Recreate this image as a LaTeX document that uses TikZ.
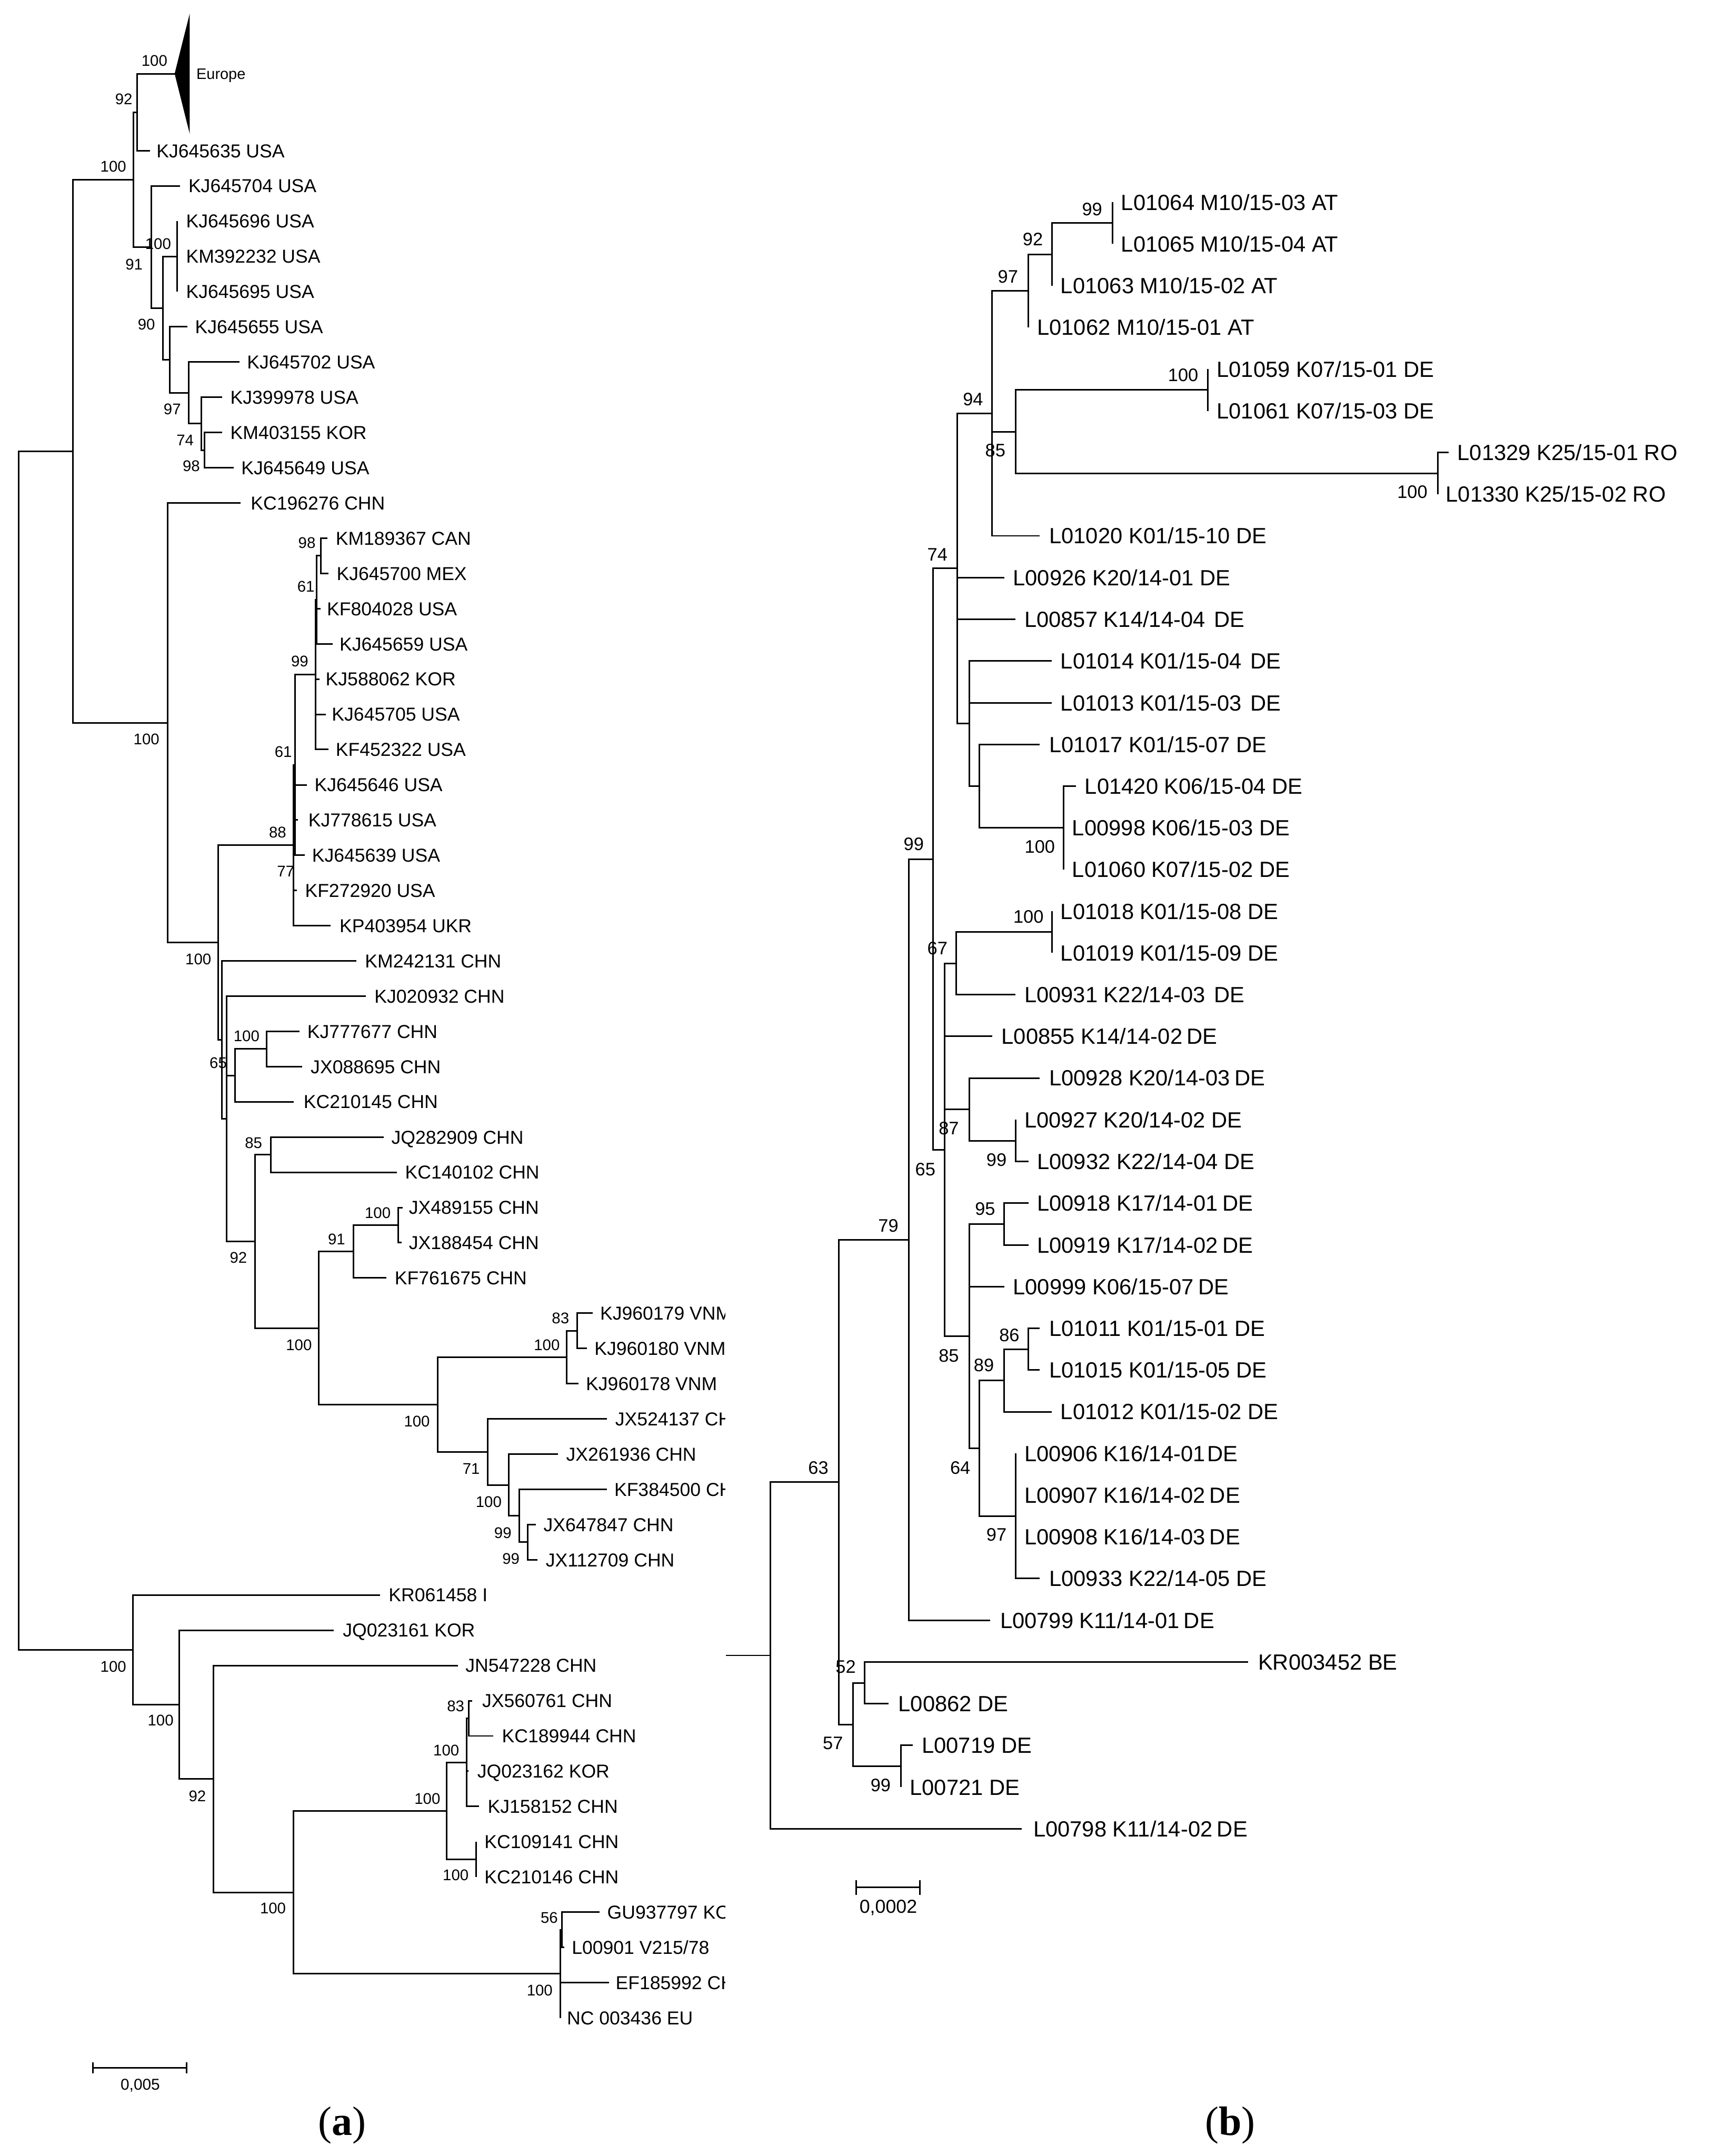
\documentclass[tikz,border=0pt]{standalone}
\usepackage{fontspec}
\setmainfont{Liberation Sans}
\newfontfamily\panelserif{Liberation Serif}
\newcommand\tg{\hspace{0.2em}}
\newcommand\vtg{\hspace{0.1em}}
\newcommand\wg{\hspace{0.4em}}
\tikzset{
  br/.style={line width=0.65pt},
  lab/.style={font=\fontsize{7.75pt}{9pt}\selectfont, inner sep=0pt, text height=5.55pt, text depth=0pt, anchor=west},
  rlab/.style={font=\fontsize{9.1pt}{11pt}\selectfont, inner sep=0pt, text height=6.52pt, text depth=0pt, anchor=west},
  bsl/.style={font=\fontsize{6.4pt}{7.5pt}\selectfont, inner sep=0pt, text height=4.58pt, text depth=0pt, anchor=center},
  bsr/.style={font=\fontsize{7.5pt}{9pt}\selectfont, inner sep=0pt, text height=5.37pt, text depth=0pt, anchor=center},
  panel/.style={font=\panelserif\fontsize{17pt}{20pt}\selectfont, inner sep=0pt, anchor=base},
}
\newcommand\LeafL[6]{\coordinate (#1) at (#3,#4); \draw[br] (#2) |- (#1); \node[lab] (#1l) at (#5,#4) {#6};}
\newcommand\LeafR[6]{\coordinate (#1) at (#3,#4); \draw[br] (#2) |- (#1); \node[rlab] (#1l) at (#5,#4) {#6};}
\newcommand\Edge[2]{\draw[br] (#1) |- (#2);}
\newcommand\BsL[4]{\node[bsl] (#1) at (#2,#3) {#4};}
\newcommand\BsR[4]{\node[bsr] (#1) at (#2,#3) {#4};}
\begin{document}
\begin{tikzpicture}[x=0.02cm,y=-0.02cm]
\useasboundingbox (0,0) rectangle (1247,1568);
\fill[white] (0,0) rectangle (1247,1568);
% ================= LEFT TREE =================
\begin{scope}
\clip (0,0) rectangle (527.5,1568);
\coordinate (R) at (13.7,764.0);
\coordinate (A) at (53.2,328.15);
\coordinate (B) at (96.8,1199.84);
\coordinate (A1) at (97.2,130.62);
\coordinate (N92) at (99.6,81.6);
\coordinate (N91) at (110,179.64);
\coordinate (N90) at (118.5,224.08);
\coordinate (N100b) at (129,186.45);
\coordinate (Nx) at (123.6,261.7);
\coordinate (N97) at (137.4,285.73);
\coordinate (N74) at (146.6,308.15);
\coordinate (N98) at (148.7,327.4);
\coordinate (A2) at (121.9,525.67);
\coordinate (N100c) at (158.7,685.53);
\coordinate (N88) at (213.6,614.77);
\coordinate (N61) at (214.6,556.34);
\coordinate (N99) at (229.4,490.68);
\coordinate (N61a) at (230.2,436.25);
\coordinate (N98b) at (233.5,404.2);
\coordinate (N757) at (161.4,756.28);
\coordinate (N815) at (164.8,813.67);
\coordinate (N65) at (171,782.1);
\coordinate (N100d) at (194,762.9);
\coordinate (N92b) at (185.4,902.83);
\coordinate (N85) at (196.8,839.8);
\coordinate (N100e) at (231.8,965.85);
\coordinate (N91b) at (256.9,910.2);
\coordinate (N100g) at (289.5,891.0);
\coordinate (N100f) at (318.3,1021.5);
\coordinate (N100h) at (412.1,987.1);
\coordinate (N83) at (419.6,967.9);
\coordinate (N71) at (354.7,1055.93);
\coordinate (N100i) at (369.8,1079.95);
\coordinate (N99c) at (377.7,1102.4);
\coordinate (N99d) at (383.9,1121.6);
\coordinate (N100j) at (130.5,1239.68);
\coordinate (N92c) at (155.2,1293.75);
\coordinate (N100k) at (213.6,1376.2);
\coordinate (N100l) at (324.9,1316.95);
\coordinate (N100n) at (339.3,1281.7);
\coordinate (N83b) at (341,1249.7);
\coordinate (N100o) at (346.1,1352.2);
\coordinate (N100m) at (407.6,1435.45);
\coordinate (N56) at (408.6,1403.4);
\Edge{R}{A} \Edge{R}{B} \Edge{A}{A1} \Edge{A}{A2}
\Edge{A1}{N92} \Edge{A1}{N91} \Edge{N91}{N90} \Edge{N90}{N100b} \Edge{N90}{Nx}
\Edge{Nx}{N97} \Edge{N97}{N74} \Edge{N74}{N98}
\Edge{A2}{N100c} \Edge{N100c}{N88} \Edge{N100c}{N757} \Edge{N88}{N61} \Edge{N61}{N99}
\Edge{N99}{N61a} \Edge{N61a}{N98b} \Edge{N757}{N815} \Edge{N815}{N65} \Edge{N65}{N100d}
\Edge{N815}{N92b} \Edge{N92b}{N85} \Edge{N92b}{N100e} \Edge{N100e}{N91b} \Edge{N91b}{N100g}
\Edge{N100e}{N100f} \Edge{N100f}{N100h} \Edge{N100h}{N83} \Edge{N100f}{N71} \Edge{N71}{N100i}
\Edge{N100i}{N99c} \Edge{N99c}{N99d}
\Edge{B}{N100j} \Edge{N100j}{N92c} \Edge{N92c}{N100k} \Edge{N100k}{N100l} \Edge{N100l}{N100n}
\Edge{N100n}{N83b} \Edge{N100l}{N100o} \Edge{N100k}{N100m} \Edge{N100m}{N56}
% Europe collapsed clade
\coordinate (EuTip) at (127,53.6);
\coordinate (EuA) at (138,9.7);
\coordinate (EuB) at (138,97.5);
\Edge{N92}{EuTip}
\fill (EuTip) -- (EuA) -- (EuB) -- cycle;
\node[font=\fontsize{6.3pt}{7.5pt}\selectfont, inner sep=0pt, text height=4.51pt, text depth=0pt, anchor=west] (Europe) at (142.5,53.6) {Europe};
% leaves
\LeafL{KJ645635}{N92}{109.2}{109.6}{113.5}{KJ645635 USA}
\LeafL{KJ645704}{N91}{131}{135.2}{136.7}{KJ645704 USA}
\LeafL{KJ645696}{N100b}{129}{160.8}{135}{KJ645696 USA}
\LeafL{KM392232}{N100b}{129}{186.45}{135}{KM392232 USA}
\LeafL{KJ645695}{N100b}{129}{212.1}{135}{KJ645695 USA}
\LeafL{KJ645655}{Nx}{136.3}{237.7}{141.5}{KJ645655 USA}
\LeafL{KJ645702}{N97}{174.1}{263.3}{179.3}{KJ645702 USA}
\LeafL{KJ399978}{N74}{161.4}{288.9}{167.2}{KJ399978 USA}
\LeafL{KM403155}{N98}{161.4}{314.6}{167.2}{KM403155 KOR}
\LeafL{KJ645649}{N98}{170}{340.2}{175.1}{KJ645649 USA}
\LeafL{KC196276}{A2}{175.1}{365.8}{182}{KC196276 CHN}
\LeafL{KM189367}{N98b}{238}{391.4}{243.8}{KM189367 CAN}
\LeafL{KJ645700}{N98b}{239}{417.0}{244.5}{KJ645700 MEX}
\LeafL{KF804028}{N61a}{233}{442.7}{237.4}{KF804028 USA}
\LeafL{KJ645659}{N61a}{242}{468.3}{246.6}{KJ645659 USA}
\LeafL{KJ588062}{N99}{232.5}{493.9}{236.5}{KJ588062 KOR}
\LeafL{KJ645705}{N99}{237}{519.5}{241}{KJ645705 USA}
\LeafL{KF452322}{N99}{238.7}{545.1}{243.8}{KF452322 USA}
\LeafL{KJ645646}{N61}{223.2}{570.8}{228.4}{KJ645646 USA}
\LeafL{KJ778615}{N61}{216.8}{596.4}{223.9}{KJ778615 USA}
\LeafL{KJ645639}{N61}{221.5}{622.0}{226.6}{KJ645639 USA}
\LeafL{KF272920}{N88}{216}{647.6}{221.5}{KF272920 USA}
\LeafL{KP403954}{N88}{240.4}{673.2}{246.6}{KP403954 UKR}
\LeafL{KM242131}{N757}{259.3}{698.9}{265.1}{KM242131 CHN}
\LeafL{KJ020932}{N815}{266.1}{724.5}{272}{KJ020932 CHN}
\LeafL{KJ777677}{N100d}{218}{750.1}{223.2}{KJ777677 CHN}
\LeafL{JX088695}{N100d}{219.8}{775.7}{225.6}{JX088695 CHN}
\LeafL{KC210145}{N65}{213.6}{801.3}{220.5}{KC210145 CHN}
\LeafL{JQ282909}{N85}{279.2}{827.0}{284.3}{JQ282909 CHN}
\LeafL{KC140102}{N85}{288.5}{852.6}{294.3}{KC140102 CHN}
\LeafL{JX489155}{N100g}{292.9}{878.2}{297}{JX489155 CHN}
\LeafL{JX188454}{N100g}{292}{903.8}{297}{JX188454 CHN}
\LeafL{KF761675}{N91b}{280.9}{929.4}{286.7}{KF761675 CHN}
\LeafL{KJ960179}{N83}{431}{955.1}{436.1}{KJ960179 VNM}
\LeafL{KJ960180}{N83}{426.8}{980.7}{432}{KJ960180 VNM}
\LeafL{KJ960178}{N100h}{420.7}{1006.3}{425.8}{KJ960178 VNM}
\LeafL{JX524137}{N71}{441.3}{1031.9}{447.1}{JX524137 CHN}
\LeafL{JX261936}{N100i}{405.9}{1057.5}{411.4}{JX261936 CHN}
\LeafL{KF384500}{N99c}{441.3}{1083.2}{446.4}{KF384500 CHN}
\LeafL{JX647847}{N99d}{389.8}{1108.8}{394.9}{JX647847 CHN}
\LeafL{JX112709}{N99d}{390.8}{1134.4}{396.6}{JX112709 CHN}
\LeafL{KR061458}{B}{276.4}{1160.0}{282.3}{KR061458 I}
\LeafL{JQ023161}{N100j}{242.8}{1185.6}{249}{JQ023161 KOR}
\LeafL{JN547228}{N92c}{333.1}{1211.3}{338.2}{JN547228 CHN}
\LeafL{JX560761}{N83b}{343.4}{1236.9}{350.3}{JX560761 CHN}
\LeafL{KC189944}{N83b}{358.8}{1262.5}{364.7}{KC189944 CHN}
\LeafL{JQ023162}{N100n}{340.6}{1288.1}{346.8}{JQ023162 KOR}
\LeafL{KJ158152}{N100n}{348.5}{1313.7}{354.4}{KJ158152 CHN}
\LeafL{KC109141}{N100o}{346.1}{1339.4}{352}{KC109141 CHN}
\LeafL{KC210146}{N100o}{346.1}{1365.0}{352}{KC210146 CHN}
\LeafL{GU937797}{N56}{436}{1390.6}{441.3}{GU937797 KOR}
\LeafL{L00901}{N56}{410.3}{1416.2}{415.5}{L00901 V215/78}
\LeafL{EF185992}{N100m}{443}{1441.8}{447.4}{EF185992 CHN}
\LeafL{NC003436}{N100m}{407.6}{1467.5}{412}{NC 003436 EU}
% bootstrap values
\BsL{bl1}{112.3}{43.9}{100}
\BsL{bl2}{90}{71.9}{92}
\BsL{bl3}{82.4}{121.1}{100}
\BsL{bl4}{115}{177.4}{100}
\BsL{bl5}{97.5}{192}{91}
\BsL{bl6}{106.5}{235.9}{90}
\BsL{bl7}{125.3}{297.3}{97}
\BsL{bl8}{134.6}{320}{74}
\BsL{bl9}{139.1}{338.7}{98}
\BsL{bl10}{106.5}{537.4}{100}
\BsL{bl11}{223.2}{394.8}{98}
\BsL{bl12}{222.5}{426.5}{61}
\BsL{bl13}{218}{480.8}{99}
\BsL{bl14}{206}{546.6}{61}
\BsL{bl15}{201.9}{605.1}{88}
\BsL{bl16}{207.8}{633.7}{77}
\BsL{bl17}{144.2}{697.5}{100}
\BsL{bl18}{179.3}{753.4}{100}
\BsL{bl19}{158.7}{772.7}{65}
\BsL{bl20}{184.4}{831.1}{85}
\BsL{bl21}{173.4}{914.7}{92}
\BsL{bl22}{274.7}{882}{100}
\BsL{bl23}{244.8}{901.2}{91}
\BsL{bl24}{217.4}{977.9}{100}
\BsL{bl25}{407.6}{958.7}{83}
\BsL{bl26}{397.7}{977.9}{100}
\BsL{bl27}{303.2}{1033.7}{100}
\BsL{bl28}{342.7}{1068.1}{71}
\BsL{bl29}{355.4}{1092.3}{100}
\BsL{bl30}{365.7}{1114.6}{99}
\BsL{bl31}{371.6}{1133.3}{99}
\BsL{bl32}{82.4}{1211.8}{100}
\BsL{bl33}{116.8}{1251.1}{100}
\BsL{bl34}{143.5}{1306}{92}
\BsL{bl35}{198.5}{1387.6}{100}
\BsL{bl36}{310.8}{1307.9}{100}
\BsL{bl37}{324.5}{1272.8}{100}
\BsL{bl38}{331.4}{1240.5}{83}
\BsL{bl39}{331.4}{1363.7}{100}
\BsL{bl40}{392.5}{1447.3}{100}
\BsL{bl41}{399.4}{1394.5}{56}
\end{scope}
% left scale bar
\coordinate (sa1) at (67.6,1503.8);
\coordinate (sa2) at (135.6,1503.8);
\draw[br] (sa1) -- (sa2);
\draw[br] ([yshift=4*0.02cm]sa1) -- ([yshift=-4*0.02cm]sa1);
\draw[br] ([yshift=4*0.02cm]sa2) -- ([yshift=-4*0.02cm]sa2);
\node[font=\fontsize{6.5pt}{8pt}\selectfont, inner sep=0pt, text height=4.65pt, text depth=0pt] (sal) at (102,1515.8) {0,005};
\node[panel] (pa) at (249,1553) {(\textbf{a})};
% ================= RIGHT TREE =================
\coordinate (rStub) at (527.9,1203.93);
\coordinate (RR) at (560.4,1203.93);
\coordinate (rN63) at (609.9,1077.86);
\coordinate (rN57) at (620.5,1254.18);
\coordinate (rN52) at (628.9,1223.85);
\coordinate (rN99r) at (655.3,1284.5);
\coordinate (rN79) at (660.8,901.55);
\coordinate (rN99a) at (678.4,624.8);
\coordinate (rN74) at (696,413.42);
\coordinate (rN94) at (721.5,300.63);
\coordinate (rN97) at (747.9,211.56);
\coordinate (rN92) at (765,185.03);
\coordinate (rN99) at (809,162.25);
\coordinate (rN85) at (738.6,313.93);
\coordinate (rN100a) at (878.4,283.6);
\coordinate (rN100b) at (1045.6,344.25);
\coordinate (rNk) at (704.8,526.2);
\coordinate (rNm) at (712.2,571.73);
\coordinate (rN100c) at (773.3,602.05);
\coordinate (rN65) at (686.8,836.17);
\coordinate (rN67) at (695.5,700.63);
\coordinate (rN100d) at (765,677.85);
\coordinate (rN87) at (704.8,806.78);
\coordinate (rN99b) at (738.6,829.55);
\coordinate (rN85b) at (704.8,971.7);
\coordinate (rN95) at (730.3,890.2);
\coordinate (rN64) at (712.2,1053.2);
\coordinate (rN89) at (730.3,1003.93);
\coordinate (rN86) at (747.9,981.15);
\coordinate (rN97b) at (738.6,1102.5);
\draw[br] (rStub) -- (RR);
\Edge{RR}{rN63} \Edge{rN63}{rN79} \Edge{rN63}{rN57} \Edge{rN57}{rN52} \Edge{rN57}{rN99r}
\Edge{rN79}{rN99a} \Edge{rN99a}{rN74} \Edge{rN99a}{rN65}
\Edge{rN74}{rN94} \Edge{rN94}{rN97} \Edge{rN97}{rN92} \Edge{rN92}{rN99}
\Edge{rN94}{rN85} \Edge{rN85}{rN100a} \Edge{rN85}{rN100b}
\Edge{rN74}{rNk} \Edge{rNk}{rNm} \Edge{rNm}{rN100c}
\Edge{rN65}{rN67} \Edge{rN67}{rN100d} \Edge{rN65}{rN87} \Edge{rN87}{rN99b}
\Edge{rN65}{rN85b} \Edge{rN85b}{rN95} \Edge{rN85b}{rN64} \Edge{rN64}{rN89} \Edge{rN89}{rN86} \Edge{rN64}{rN97b}
\LeafR{L01064}{rN99}{809}{147.1}{815}{L01064 M10/15-03 AT}
\LeafR{L01065}{rN99}{809}{177.4}{815}{L01065 M10/15-04 AT}
\LeafR{L01063}{rN92}{765}{207.8}{771}{L01063 M10/15-02 AT}
\LeafR{L01062}{rN97}{747.9}{238.1}{753.9}{L01062 M10/15-01 AT}
\LeafR{L01059}{rN100a}{878.4}{268.4}{884.5}{L01059 K07/15-01 DE}
\LeafR{L01061}{rN100a}{878.4}{298.8}{884.5}{L01061 K07/15-03 DE}
\LeafR{L01329}{rN100b}{1053.4}{329.1}{1059.5}{L01329 K25/15-01 RO}
\LeafR{L01330}{rN100b}{1045.6}{359.4}{1051.1}{L01330 K25/15-02 RO}
\LeafR{L01020}{rN94}{756.2}{389.7}{762.7}{L01020 K01/15-10 DE}
\LeafR{L00926}{rN74}{730.3}{420.1}{736.3}{L00926 K20/14-01 DE}
\LeafR{L00857}{rN74}{738.6}{450.4}{744.6}{L00857 K14/14-04\wg DE}
\LeafR{L01014}{rNk}{765}{480.7}{771}{L01014 K01/15-04\wg DE}
\LeafR{L01013}{rNk}{765}{511.1}{771}{L01013 K01/15-03\wg DE}
\LeafR{L01017}{rNm}{756.2}{541.4}{762.7}{L01017 K01/15-07 DE}
\LeafR{L01420}{rN100c}{782.6}{571.7}{788.6}{L01420 K06/15-04 DE}
\LeafR{L00998}{rN100c}{773.3}{602.1}{779.4}{L00998 K06/15-03 DE}
\LeafR{L01060}{rN100c}{773.3}{632.4}{779.4}{L01060 K07/15-02 DE}
\LeafR{L01018}{rN100d}{765}{662.7}{771}{L01018 K01/15-08 DE}
\LeafR{L01019}{rN100d}{765}{693.0}{771}{L01019 K01/15-09 DE}
\LeafR{L00931}{rN67}{738.6}{723.4}{744.6}{L00931 K22/14-03\wg DE}
\LeafR{L00855}{rN65}{721.5}{753.7}{728}{L00855 K14/14-02\tg DE}
\LeafR{L00928}{rN87}{756.2}{784.0}{762.7}{L00928 K20/14-03\tg DE}
\LeafR{L00927}{rN99b}{738.6}{814.4}{744.6}{L00927 K20/14-02 DE}
\LeafR{L00932}{rN99b}{747.9}{844.7}{753.9}{L00932 K22/14-04 DE}
\LeafR{L00918}{rN95}{747.9}{875.0}{753.9}{L00918 K17/14-01\tg DE}
\LeafR{L00919}{rN95}{747.9}{905.4}{753.9}{L00919 K17/14-02\tg DE}
\LeafR{L00999}{rN85b}{730.3}{935.7}{736.3}{L00999 K06/15-07\tg DE}
\LeafR{L01011}{rN86}{756.2}{966.0}{762.7}{L01011 K01/15-01 DE}
\LeafR{L01015}{rN86}{756.2}{996.3}{762.7}{L01015 K01/15-05 DE}
\LeafR{L01012}{rN89}{765}{1026.7}{771}{L01012 K01/15-02 DE}
\LeafR{L00906}{rN97b}{738.6}{1057.0}{744.6}{L00906 K16/14-01\vtg DE}
\LeafR{L00907}{rN97b}{738.6}{1087.3}{744.6}{L00907 K16/14-02\tg DE}
\LeafR{L00908}{rN97b}{738.6}{1117.7}{744.6}{L00908 K16/14-03\tg DE}
\LeafR{L00933}{rN97b}{756.2}{1148.0}{762.7}{L00933 K22/14-05 DE}
\LeafR{L00799}{rN79}{720.1}{1178.3}{727}{L00799 K11/14-01\tg DE}
\LeafR{KR003452}{rN52}{907.6}{1208.7}{914.6}{KR003452 BE}
\LeafR{L00862}{rN52}{646}{1239.0}{653}{L00862 DE}
\LeafR{L00719}{rN99r}{663.6}{1269.3}{670}{L00719 DE}
\LeafR{L00721}{rN99r}{655.3}{1299.7}{661.3}{L00721 DE}
\LeafR{L00798}{RR}{743.2}{1330.0}{751.1}{L00798 K11/14-02\tg DE}
\BsR{br1}{794.2}{152.1}{99}
\BsR{br2}{751.1}{174}{92}
\BsR{br3}{733}{200.9}{97}
\BsR{br4}{707.6}{290.2}{94}
\BsR{br5}{860.4}{272.7}{100}
\BsR{br6}{723.8}{327.5}{85}
\BsR{br7}{1027.1}{357.8}{100}
\BsR{br8}{681.7}{403.3}{74}
\BsR{br9}{756.2}{615.7}{100}
\BsR{br10}{664.5}{613.8}{99}
\BsR{br11}{747.9}{666.6}{100}
\BsR{br12}{681.7}{689.5}{67}
\BsR{br13}{690}{820.3}{87}
\BsR{br14}{672.9}{850.2}{65}
\BsR{br15}{724.7}{843.3}{99}
\BsR{br16}{716.4}{879.1}{95}
\BsR{br17}{646}{891.1}{79}
\BsR{br18}{734}{970.9}{86}
\BsR{br19}{690}{985.8}{85}
\BsR{br20}{715.5}{992.8}{89}
\BsR{br21}{595.1}{1067.4}{63}
\BsR{br22}{698.3}{1067.4}{64}
\BsR{br23}{724.7}{1116.1}{97}
\BsR{br24}{615}{1212.2}{52}
\BsR{br25}{605.7}{1267.7}{57}
\BsR{br26}{640.4}{1298.2}{99}
% right scale bar
\coordinate (sb1) at (622.8,1372.6);
\coordinate (sb2) at (669,1372.6);
\draw[br] (sb1) -- (sb2);
\draw[br] ([yshift=5.4*0.02cm]sb1) -- ([yshift=-5.4*0.02cm]sb1);
\draw[br] ([yshift=5.4*0.02cm]sb2) -- ([yshift=-5.4*0.02cm]sb2);
\node[font=\fontsize{7.8pt}{9pt}\selectfont, inner sep=0pt, text height=5.58pt, text depth=0pt] (sbl) at (646,1386.5) {0,0002};
\node[panel] (pb) at (894.6,1553) {(\textbf{b})};
\end{tikzpicture}
\end{document}
